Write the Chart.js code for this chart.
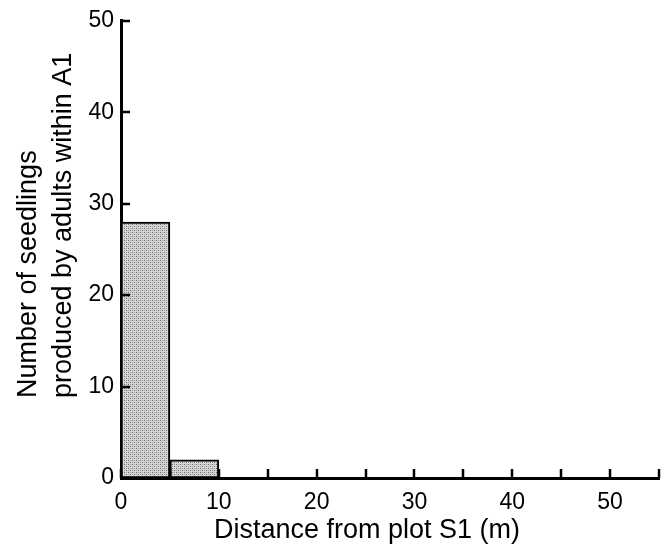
<!DOCTYPE html>
<html>
<head>
<meta charset="utf-8">
<script src="https://cdn.jsdelivr.net/npm/chart.js@4.4.0/dist/chart.umd.min.js"></script>
<style>
  html, body { margin: 0; padding: 0; background: #fff; }
  #wrap { width: 671px; height: 552px; }
</style>
</head>
<body>
<div id="wrap"><canvas id="hist"></canvas></div>
<script>
// seedling counts per 5 m distance class
const binStarts = [0, 5, 10, 15, 20, 25, 30, 35, 40, 45, 50];
const binWidth = 5;
const counts = [28, 2, 0, 0, 0, 0, 0, 0, 0, 0, 0];
const yTicks = [0, 10, 20, 30, 40, 50];
const xTicks = [0, 5, 10, 15, 20, 25, 30, 35, 40, 45, 50, 55];

const xTitle = 'Distance from plot S1 (m)';
const yTitle = ['Number of seedlings', 'produced by adults within A1'];

const FONT = 'Liberation Sans, Arial, Helvetica, sans-serif';

// stippled grey fill
function stipple() {
  const c = document.createElement('canvas');
  c.width = 4; c.height = 4;
  const g = c.getContext('2d');
  g.fillStyle = '#d6d6d6';
  g.fillRect(0, 0, 4, 4);
  g.fillStyle = '#666';
  g.fillRect(0, 0, 1, 1);
  g.fillRect(2, 2, 1, 1);
  g.fillStyle = '#a0a0a0';
  g.fillRect(2, 0, 1, 1);
  g.fillRect(0, 2, 1, 1);
  return g.createPattern(c, 'repeat');
}

const points = binStarts.map((s, i) => ({ x: s + binWidth / 2, y: counts[i] }));

// inward tick marks and the axis titles
const extras = {
  id: 'extras',
  afterDraw(chart) {
    const ctx = chart.ctx;
    const xs = chart.scales.x, ys = chart.scales.y;
    const left = chart.chartArea.left, bottom = chart.chartArea.bottom;
    ctx.save();
    ctx.strokeStyle = '#000';
    ctx.lineWidth = 2.5;
    ctx.beginPath();
    yTicks.forEach(v => {
      const py = Math.round(ys.getPixelForValue(v));
      ctx.moveTo(left, py);
      ctx.lineTo(left + 9, py);
    });
    xTicks.forEach(v => {
      const px = Math.round(xs.getPixelForValue(v));
      ctx.moveTo(px, bottom);
      ctx.lineTo(px, bottom - 9);
    });
    ctx.stroke();

    ctx.fillStyle = '#000';
    ctx.font = '27px ' + FONT;
    ctx.textAlign = 'center';
    ctx.textBaseline = 'alphabetic';
    ctx.fillText(xTitle, 367, 538);

    ctx.translate(0, 398);
    ctx.rotate(-Math.PI / 2);
    ctx.textAlign = 'left';
    ctx.fillText(yTitle[0], 0, 36);
    ctx.fillText(yTitle[1], 0, 71);
    ctx.restore();
  }
};

window.addEventListener('load', () => {
  new Chart(document.getElementById('hist'), {
    type: 'bar',
    data: {
      datasets: [{
        data: points,
        backgroundColor: stipple(),
        borderColor: '#000',
        borderWidth: 2,
        borderSkipped: false,
        barPercentage: 1,
        categoryPercentage: 1
      }]
    },
    options: {
      responsive: true,
      maintainAspectRatio: false,
      animation: false,
      layout: { padding: { top: 17, right: 12, left: 0, bottom: 0 } },
      plugins: {
        legend: { display: false },
        tooltip: { enabled: false }
      },
      scales: {
        x: {
          type: 'linear',
          min: 0,
          max: 55,
          offset: false,
          grid: { display: false, drawTicks: false },
          border: { display: true, color: '#000', width: 3 },
          ticks: {
            stepSize: 5,
            padding: 11,
            maxRotation: 0,
            autoSkip: false,
            color: '#000',
            font: { family: FONT, size: 23 },
            callback: v => (v % 10 === 0 ? v : '')
          },
          afterFit(scale) { scale.height = 74; }
        },
        y: {
          min: 0,
          max: 50,
          grid: { display: false, drawTicks: false },
          border: { display: true, color: '#000', width: 3 },
          ticks: {
            stepSize: 10,
            padding: 7,
            color: '#000',
            font: { family: FONT, size: 23 }
          },
          afterFit(scale) { scale.width = 121; }
        }
      }
    },
    plugins: [extras]
  });
});
</script>
</body>
</html>
